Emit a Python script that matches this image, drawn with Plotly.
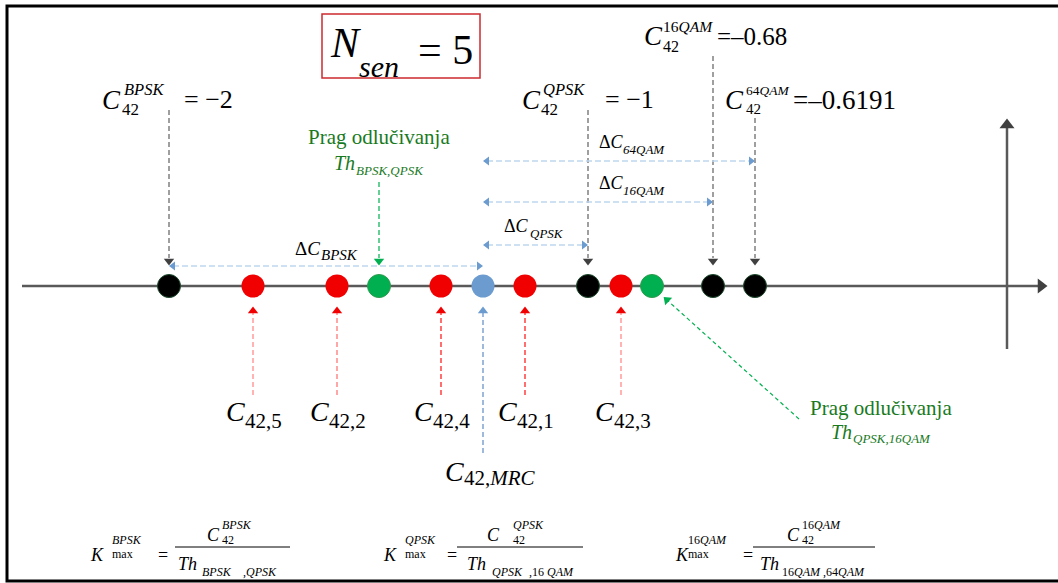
import plotly.graph_objects as go

# ---------------- data ----------------
n_sen = 5
ref_mods = ["BPSK", "QPSK", "16QAM", "64QAM"]
ref_values = ["= −2", "= −1", "=–0.68", "=–0.6191"]
ref_pos = [169, 588, 713, 755]            # schematic positions of reference C42 values on the line
sensor_ids = ["5", "2", "4", "1", "3"]
sensor_pos = [253, 337, 441, 525, 621]    # per-sensor C42 estimates (schematic)
mrc_pos = [483]                           # combined (MRC) estimate
thr_names = ["BPSK,QPSK", "QPSK,16QAM"]
thr_pos = [379, 652]                      # decision thresholds
delta_names = ["BPSK", "QPSK", "16QAM", "64QAM"]

FONT = "Liberation Serif"
AXIS_Y = 286
GREEN_TXT = "#187a1e"
GREEN = "#00b050"
RED = "#f00000"
BLUE = "#6b9bcf"

fig = go.Figure()


def text(x, y, s, size, color="black", anchor="left"):
    fig.add_annotation(x=x, y=y, xref="x", yref="y", text=s, showarrow=False,
                       font=dict(family=FONT, size=size, color=color),
                       xanchor=anchor, yanchor="middle", borderpad=0)


def seg(x0, y0, x1, y1, color, width=1.5, dash="5px,3px"):
    fig.add_shape(type="line", x0=x0, y0=y0, x1=x1, y1=y1, xref="x", yref="y",
                  line=dict(color=color, width=width, dash=dash), layer="below")


def head(x, y, symbol, color, size=9, angle=0):
    fig.add_trace(go.Scatter(x=[x], y=[y], mode="markers", hoverinfo="skip",
                             marker=dict(symbol=symbol, color=color, size=size, angle=angle,
                                         line=dict(width=0))))


# frame and title box
fig.add_shape(type="rect", x0=7, y0=6, x1=1075, y1=581, line=dict(color="black", width=3), layer="below")
fig.add_shape(type="rect", x0=322, y0=14, x1=480, y1=78, line=dict(color="#cc2a2f", width=1.5), layer="below")
text(329, 43, "<i>N</i>", 42)
text(358, 66, "<i>sen</i>", 30)
text(417, 50, f"= {n_sen}", 42)

# main axis
seg(22, AXIS_Y, 1040, AXIS_Y, "#595959", width=2.5, dash="solid")
head(1041, AXIS_Y, "triangle-right", "#404040", 13)
seg(1007, 349, 1007, 128, "#595959", width=2.5, dash="solid")
head(1007, 125, "triangle-up", "#404040", 13)

# reference value labels and arrows
ref_label = [
    dict(cx=101, cy=100, sx=123, sy=89, ss=16.5, bx=121, by=109, bs=17, vx=183, vy=99, top=110, sup="<i>BPSK</i>", vs=26),
    dict(cx=521, cy=100, sx=542, sy=89, ss=16.5, bx=540, by=109, bs=17, vx=604, vy=99, top=110, sup="<i>QPSK</i>", vs=26),
    dict(cx=643, cy=36, sx=662, sy=26, ss=15.5, bx=662, by=46, bs=16, vx=716, vy=36, top=56, sup="16<i>QAM</i>", vs=25),
    dict(cx=724, cy=100, sx=745, sy=90, ss=13.5, bx=745, by=109, bs=15, vx=792, vy=100, top=118, sup="64<i>QAM</i>", vs=27),
]
for p, v, lab in zip(ref_pos, ref_values, ref_label):
    text(lab["cx"], lab["cy"], "<i>C</i>", 27)
    text(lab["sx"], lab["sy"], lab["sup"], lab["ss"])
    text(lab["bx"], lab["by"], "42", lab["bs"])
    text(lab["vx"], lab["vy"], v, lab["vs"])
    seg(p, lab["top"], p, 258, "#808080")
    head(p, 261, "triangle-down", "#404040", 9)

# delta arrows (light blue, double headed)
delta_rows = [266, 245, 202, 161]
delta_txt = [(294, 248, 320, 255, 19, 15), (503, 226, 529, 233, 18, 13),
             (598, 183, 622, 190, 18, 13), (598, 142, 622, 149, 18, 13)]
for i, (name, yy, t) in enumerate(zip(delta_names, delta_rows, delta_txt)):
    if i == 0:
        a, b = ref_pos[0], mrc_pos[0]
    else:
        a, b = mrc_pos[0], ref_pos[i]
    seg(a + 4, yy, b - 4, yy, "#bdd7ee", width=1.5, dash="6px,3px")
    head(a + 4, yy, "triangle-left", BLUE, 8)
    head(b - 4, yy, "triangle-right", BLUE, 8)
    text(t[0], t[1], "Δ<i>C</i>", t[4])
    text(t[2], t[3], "<i>" + name + "</i>", t[5])

# threshold 1 label (above)
text(379, 137, "Prag odlučivanja", 21, GREEN_TXT, "center")
text(333, 163, "<i>Th</i>", 20, GREEN_TXT)
text(355, 170, "<i>" + thr_names[0] + "</i>", 13, GREEN_TXT)
seg(thr_pos[0], 182, thr_pos[0], 258, GREEN, width=1.2)
head(thr_pos[0], 261, "triangle-down", GREEN, 9)

# threshold 2 label (below right)
text(881, 408, "Prag odlučivanja", 21, GREEN_TXT, "center")
text(830, 432, "<i>Th</i>", 20, GREEN_TXT)
text(852, 438, "<i>" + thr_names[1] + "</i>", 13, GREEN_TXT)
seg(799, 419, 667, 300, GREEN, width=1.2, dash="4px,3px")
head(667, 300, "triangle-up", GREEN, 9, angle=-48)

# sensor arrows and labels
sensor_line_col = ["#ff9a9a", "#ff8a8a", "#ff4040", "#ff4040", "#ff9a9a"]
sensor_lab_x = [225, 309, 413, 497, 594]
for p, sid, col, cx in zip(sensor_pos, sensor_ids, sensor_line_col, sensor_lab_x):
    seg(p, 395, p, 313, col)
    head(p, 311, "triangle-up", RED, 9)
    text(cx, 411, "<i>C</i>", 28)
    text(cx + 19, 421, "42," + sid, 21)

# MRC arrow and label
seg(mrc_pos[0], 453, mrc_pos[0], 313, "#7fa3cf")
head(mrc_pos[0], 311, "triangle-up", BLUE, 9)
text(444, 471, "<i>C</i>", 28)
text(463, 478, "42,<i>MRC</i>", 21)

# dots on the axis
fig.add_trace(go.Scatter(x=ref_pos, y=[AXIS_Y] * len(ref_pos), mode="markers", hoverinfo="skip",
                         marker=dict(size=23, color="black", line=dict(color="#1c4a2c", width=1))))
fig.add_trace(go.Scatter(x=sensor_pos, y=[AXIS_Y] * len(sensor_pos), mode="markers", hoverinfo="skip",
                         marker=dict(size=23, color=RED, line=dict(width=0))))
fig.add_trace(go.Scatter(x=mrc_pos, y=[AXIS_Y] * len(mrc_pos), mode="markers", hoverinfo="skip",
                         marker=dict(size=23, color=BLUE, line=dict(width=0))))
fig.add_trace(go.Scatter(x=thr_pos, y=[AXIS_Y] * len(thr_pos), mode="markers", hoverinfo="skip",
                         marker=dict(size=23, color=GREEN, line=dict(color="#2e9a4e", width=1))))

# bottom formulas K_max
form = [
    dict(k=89, ks="<i>BPSK</i>", ksx=111, eq=157, l0=175, l1=290, c=206, cs="<i>BPSK</i>", csx=221,
         th=177, tsub=[(201, "<i>BPSK</i>"), (242, ",<i>QPSK</i>")]),
    dict(k=382, ks="<i>QPSK</i>", ksx=404, eq=446, l0=457, l1=583, c=486, cs="<i>QPSK</i>", csx=512,
         th=466, tsub=[(491, "<i>QPSK</i>"), (528, ",16 <i>QAM</i>")]),
    dict(k=674, ks="16<i>QAM</i>", ksx=687, eq=742, l0=753, l1=875, c=786, cs="16<i>QAM</i>", csx=801,
         th=759, tsub=[(781, "16<i>QAM</i> ,64<i>QAM</i>")]),
]
for f in form:
    text(f["k"], 555, "<i>K</i>", 18)
    text(f["ksx"], 540, f["ks"], 12)
    text(f["ksx"], 554, "max", 12)
    text(f["eq"], 555, "=", 18)
    seg(f["l0"], 547, f["l1"], 547, "black", width=1, dash="solid")
    text(f["c"], 535, "<i>C</i>", 18)
    text(f["csx"], 525, f["cs"], 12)
    text(f["csx"], 540, "42", 12)
    text(f["th"], 564, "<i>Th</i>", 18)
    for sx, st in f["tsub"]:
        text(sx, 572, st, 12)

fig.update_layout(
    width=1058, height=583, margin=dict(l=0, r=0, t=0, b=0),
    paper_bgcolor="white", plot_bgcolor="white", showlegend=False,
    xaxis=dict(range=[0, 1058], visible=False, fixedrange=True),
    yaxis=dict(range=[583, 0], visible=False, fixedrange=True),
)

fig.write_html("out.html", config={"displayModeBar": False},
               post_script="document.body.style.margin='0';document.body.style.overflow='hidden';")
